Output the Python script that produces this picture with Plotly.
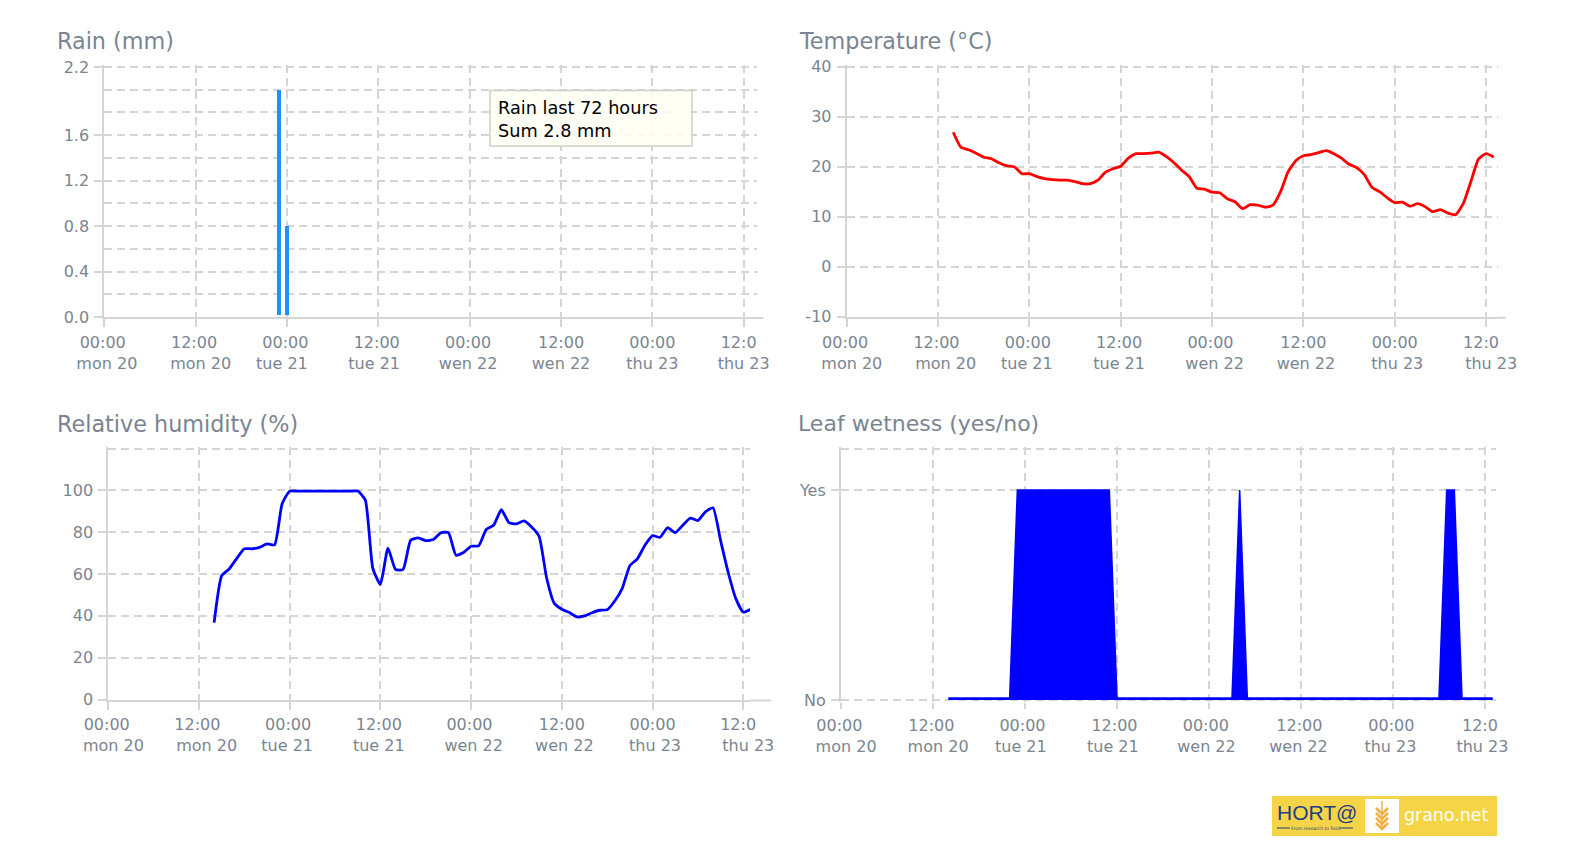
import pandas as pd
import plotly.graph_objects as go

W, H = 1578, 850

# ---------- data ----------
tick_times = ["2021-09-20 00:00", "2021-09-20 12:00", "2021-09-21 00:00", "2021-09-21 12:00",
              "2021-09-22 00:00", "2021-09-22 12:00", "2021-09-23 00:00", "2021-09-23 12:00"]
tick_line1 = ["00:00\u2009", "12:00\u2009", "00:00\u2009", "12:00\u2009", "00:00\u2009", "12:00", "00:00", "12:0\u00a0\u00a0"]
tick_line2 = ["\u00a0\u00a0mon 20", "\u00a0\u00a0\u00a0mon 20", "tue 21\u00a0", "tue 21\u2009", "\u00a0wen 22",
              "\u00a0wen 22", "\u00a0thu 23", "\u00a0\u00a0thu 23"]
tick_line2_rain = ["\u00a0mon 20", "\u00a0\u00a0mon 20", "tue 21\u00a0\u00a0", "tue 21\u2009\u00a0", "wen 22\u2009",
                   "wen 22", "thu 23", "thu 23"]
tick_line1_leaf = ["00:00\u2009", "12:00\u2009", "00:00\u00a0", "12:00\u00a0", "00:00\u2009\u2009",
                   "12:00\u2009", "00:00\u2009", "12:0\u00a0\u00a0"]
tick_line2_leaf = ["\u00a0\u00a0mon 20", "\u00a0\u00a0mon 20", "tue 21\u00a0\u2009", "tue 21\u00a0\u2009", "wen 22\u00a0",
                   "wen 22\u00a0", "thu 23\u00a0", "thu 23\u00a0"]

rain_times = ["2021-09-20 23:00", "2021-09-21 00:00"]
rain_values = [2.0, 0.8]
rain_base = 0.014

temperature = [26.9, 23.9, 23.4, 22.7, 21.9, 21.6, 20.8, 20.2, 20.0, 18.6, 18.6, 18.0, 17.6, 17.4, 17.3, 17.3,
               17.0, 16.6, 16.6, 17.3, 18.9, 19.6, 20.1, 21.7, 22.6, 22.6, 22.7, 22.9, 22.0, 20.8, 19.3, 18.0,
               15.7, 15.5, 14.9, 14.8, 13.6, 13.0, 11.6, 12.4, 12.3, 11.9, 12.3, 15.0, 19.0, 21.2, 22.2, 22.4,
               22.8, 23.2, 22.6, 21.7, 20.5, 19.8, 18.4, 15.9, 15.0, 13.8, 12.8, 12.9, 12.1, 12.6, 12.0, 11.0,
               11.4, 10.7, 10.4, 12.6, 17.0, 21.5, 22.6, 21.9]

humidity = [36.8, 59.2, 62.5, 67.5, 72.1, 72.1, 72.8, 74.4, 74.0, 93.7, 99.7, 99.7, 99.7, 99.7, 99.7, 99.7,
            99.7, 99.7, 99.7, 99.7, 95.5, 62.7, 55.0, 72.4, 62.2, 62.2, 76.2, 77.3, 76.0, 76.5, 79.8, 79.8,
            69.0, 70.3, 73.3, 73.5, 81.3, 83.5, 90.8, 84.6, 84.0, 85.4, 82.5, 78.0, 58.0, 46.0, 43.2, 41.6,
            39.5, 40.0, 41.5, 42.7, 42.9, 47.1, 53.2, 64.0, 67.3, 73.8, 78.4, 77.6, 82.2, 79.8, 83.3, 86.8,
            85.6, 89.8, 91.7, 76.2, 61.0, 48.5, 41.8, 43.2]

leaf_wetness = [0.01] * 9 + [1] * 13 + [0.01] * 16 + [1] + [0.01] * 26 + [1, 1] + [0.01] * 5

times = pd.date_range("2021-09-20 14:00", periods=72, freq="h")

# ---------- style ----------
GRID = "#d5d5d5"
TXT = "#7a8591"
FAM = "DejaVu Sans"
DASH = "8px,5px"

def px(x): return x / W
def py(y): return 1 - y / H

panels = {
    "1": dict(l=104.3, r=757, t=67, b=317, step=91.34),
    "2": dict(l=846.7, r=1498, t=66.7, b=316.7, step=91.34),
    "3": dict(l=108.3, r=750, t=449.3, b=699.5, step=90.7),
    "4": dict(l=841, r=1496, t=449.3, b=700, step=92.0),
}

def xaxis_cfg(p, line1, line2, line=True, pad_b=0, standoff=2):
    end = pd.Timestamp("2021-09-20") + pd.Timedelta(hours=(p["r"] - p["l"]) / p["step"] * 12)
    return dict(domain=[px(p["l"]), px(p["r"])], type="date", automargin=False,
                range=["2021-09-20 00:00", end.strftime("%Y-%m-%d %H:%M:%S")],
                tickmode="array", tickvals=tick_times,
                ticktext=[a + "<br>" + b for a, b in zip(line1, line2)],
                ticks="outside", ticklen=8 - pad_b, tickcolor=GRID, tickwidth=1.5, ticklabelstandoff=standoff,
                tickangle=0, tickfont=dict(family=FAM, size=16, color=TXT),
                showgrid=True, gridcolor=GRID, griddash=DASH, gridwidth=1.5,
                showline=line, linecolor=GRID, linewidth=2, zeroline=False)

def yaxis_cfg(p, vals, text, rng, minor, pad_b=0, pad_t=2):
    # a couple of spare pixels so that the grid lines at the range ends are kept
    unit = (rng[1] - rng[0]) / (p["b"] - p["t"])
    return dict(domain=[py(p["b"] + pad_b), py(p["t"] - pad_t)],
                range=[rng[0] - pad_b * unit, rng[1] + pad_t * unit], automargin=False,
                tickmode="array", tickvals=vals, ticktext=text,
                ticks="outside", ticklen=8, tickcolor=GRID, tickwidth=1.5, ticklabelstandoff=2,
                tickfont=dict(family=FAM, size=16, color=TXT),
                showgrid=True, gridcolor=GRID, griddash=DASH, gridwidth=1.5,
                minor=dict(tickmode="array", tickvals=minor, ticks="", showgrid=True, gridcolor=GRID,
                           griddash=DASH, gridwidth=1.5),
                showline=True, linecolor=GRID, linewidth=2, zeroline=False)

fig = go.Figure()

fig.add_trace(go.Bar(x=rain_times, y=[v - rain_base for v in rain_values], base=rain_base, width=1900000,
                     marker=dict(color="#1e90ff", line_width=0), xaxis="x", yaxis="y", showlegend=False))
fig.add_trace(go.Scatter(x=times, y=temperature, mode="lines", line=dict(color="#ff0000", width=2.8, shape="spline", smoothing=0.5),
                         xaxis="x2", yaxis="y2", showlegend=False))
fig.add_trace(go.Scatter(x=times, y=humidity, mode="lines", line=dict(color="#0000ff", width=2.8, shape="spline", smoothing=0.5),
                         xaxis="x3", yaxis="y3", showlegend=False))
fig.add_trace(go.Scatter(x=times, y=leaf_wetness, mode="lines", fill="tozeroy", fillcolor="#0000ff",
                         line=dict(color="#0000ff", width=1.5), xaxis="x4", yaxis="y4", showlegend=False))

layout = dict(
    width=W, height=H, margin=dict(l=0, r=0, t=0, b=0, autoexpand=False), paper_bgcolor="white", plot_bgcolor="white",
    font=dict(family=FAM, color=TXT),
    xaxis=dict(xaxis_cfg(panels["1"], tick_line1, tick_line2_rain), anchor="y"),
    yaxis=dict(yaxis_cfg(panels["1"], [0, 0.4, 0.8, 1.2, 1.6, 2.2], ["0.0", "0.4", "0.8", "1.2", "1.6", "2.2"],
                         [0, 2.2], [0.2, 0.6, 1.0, 1.4, 1.8, 2.0]), anchor="x"),
    xaxis2=dict(xaxis_cfg(panels["2"], tick_line1, tick_line2), anchor="y2"),
    yaxis2=dict(yaxis_cfg(panels["2"], [-10, 0, 10, 20, 30, 40], ["-10", "0", "10", "20", "30", "40"],
                          [-10, 40], []), anchor="x2"),
    xaxis3=dict(xaxis_cfg(panels["3"], tick_line1, tick_line2, standoff=1), anchor="y3"),
    yaxis3=dict(yaxis_cfg(panels["3"], [0, 20, 40, 60, 80, 100], ["0", "20", "40", "60", "80", "100"],
                          [0, 119.7], [119.7]), anchor="x3"),
    xaxis4=dict(xaxis_cfg(panels["4"], tick_line1_leaf, tick_line2_leaf, line=False, pad_b=2, standoff=3), anchor="y4"),
    yaxis4=dict(yaxis_cfg(panels["4"], [0, 1], ["No", "Yes"], [0, 1.194], [1.194], pad_b=2), anchor="x4"),
    bargap=0,
)

def label(text, x, y, size, color=TXT, anchor="left", family=FAM):
    return dict(text=text, x=px(x), y=py(y), xref="paper", yref="paper", xanchor=anchor, yanchor="middle",
                showarrow=False, font=dict(family=family, size=size, color=color), align="left",
                borderpad=0, borderwidth=0)

annotations = [
    label("Rain (mm)", 57, 41, 22.3),
    label("Temperature (°C)", 799, 41, 22.3),
    label("Relative humidity (%)", 57, 424, 22.3),
    label("Leaf wetness (yes/no)", 798, 424, 22),
    label("Rain last 72 hours<br>Sum 2.8 mm", 497.5, 119.5, 17.7, color="#000000"),
    label("HORT@", 1277, 812, 21, color="#1d3f86", family="Liberation Sans"),
    label("From research to field", 1291, 828, 4.5, color="#1d3f86"),
    label("grano.net", 1404, 815, 17.4, color="#ffffff"),
]

def hline(x0, x1, y, color, width):
    return dict(type="line", xref="paper", yref="paper", x0=px(x0), x1=px(x1), y0=py(y), y1=py(y),
                line=dict(color=color, width=width))

shapes = [
    # the x axis lines run on past the plot areas
    hline(757, 763.3, 318, GRID, 2),
    hline(1498, 1505.7, 317.7, GRID, 2),
    hline(750, 771, 700.5, GRID, 2),
    dict(type="rect", xref="paper", yref="paper", x0=px(490), x1=px(692), y0=py(146), y1=py(90.5),
         fillcolor="rgba(255,255,245,0.85)", line=dict(color="#cfcfc8", width=1.5), layer="above"),
    dict(type="rect", xref="paper", yref="paper", x0=px(1272), x1=px(1497), y0=py(836), y1=py(796),
         fillcolor="#f5d547", line_width=0),
    dict(type="rect", xref="paper", yref="paper", x0=px(1365), x1=px(1399), y0=py(833), y1=py(799),
         fillcolor="#ffffff", line_width=0),
    hline(1277, 1290, 828, "#1d3f86", 1),
    hline(1340, 1353, 828, "#1d3f86", 1),
    dict(type="line", xref="paper", yref="paper", x0=px(1382), x1=px(1382), y0=py(830), y1=py(801),
         line=dict(color="#f0b040", width=1.5)),
]
for yy in (812, 817, 822, 827):
    shapes.append(dict(type="path", xref="paper", yref="paper",
                       path=f"M {px(1376)} {py(yy - 4)} L {px(1382)} {py(yy + 2)} L {px(1388)} {py(yy - 4)}",
                       line=dict(color="#f0b040", width=2.5)))

fig.update_layout(**layout, annotations=annotations, shapes=shapes)
fig.write_html("out.html", config=dict(displayModeBar=False), post_script="document.body.style.margin='0';")
